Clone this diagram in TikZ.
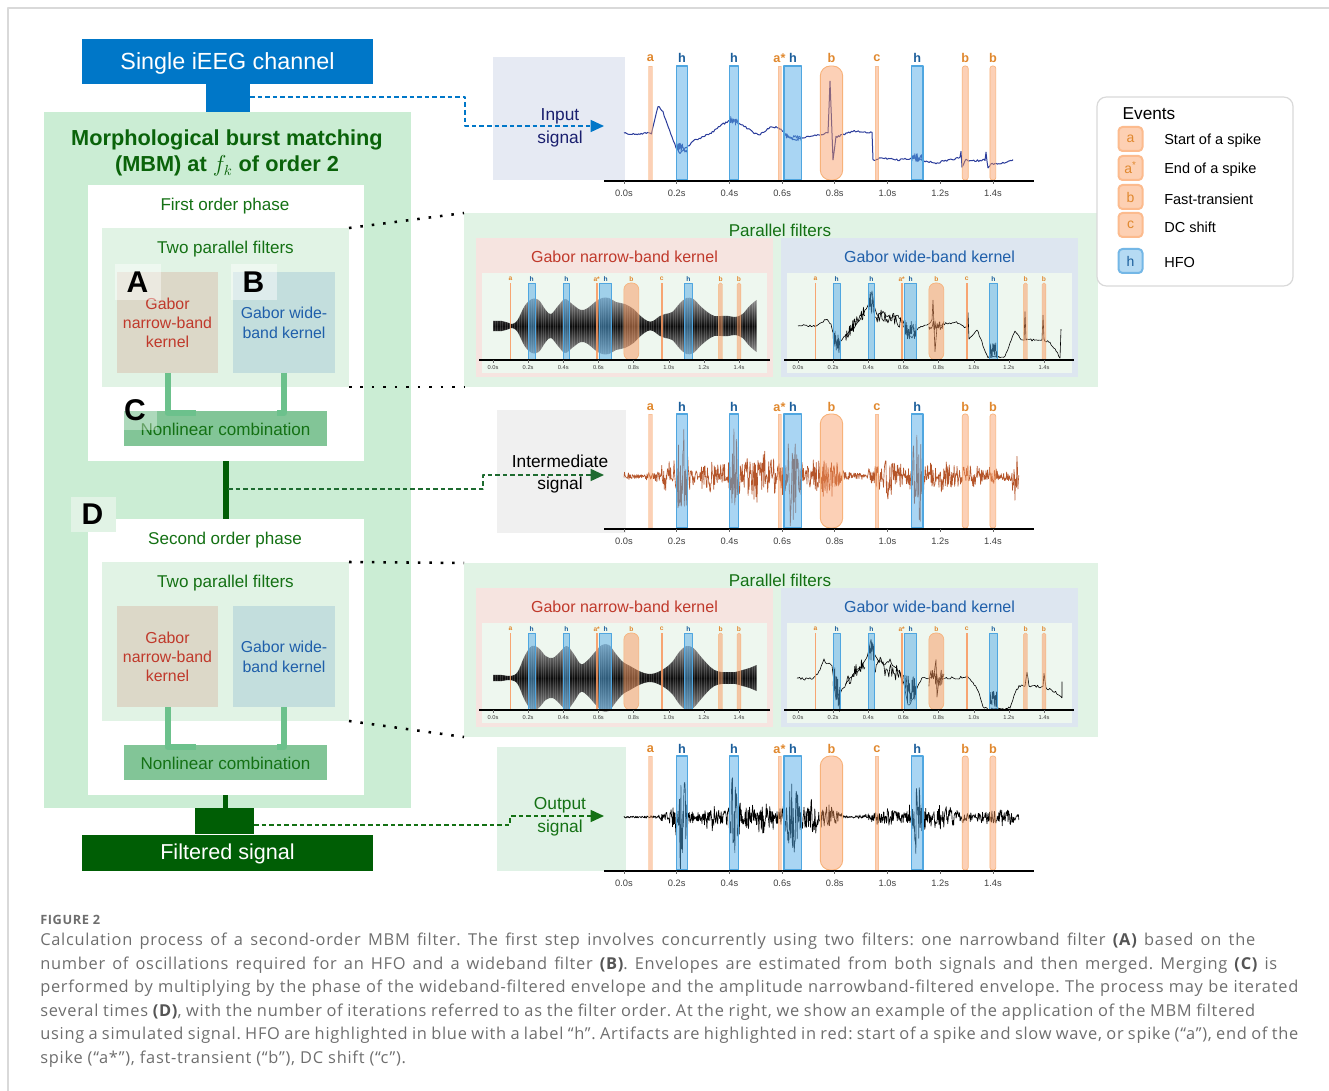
\documentclass[tikz,border=0pt]{standalone}
\usepackage{fontspec}
\setmainfont{Liberation Sans}
\newfontfamily\capfont{Open Sans}[LetterSpace=4.5]
\usetikzlibrary{arrows.meta,calc,fit}

\newcommand\fsz[2]{\fontsize{#1}{#2}\selectfont}

% palette
\definecolor{chanblue}{HTML}{0077C8}
\definecolor{outgreen}{HTML}{005E05}
\definecolor{mbmfill}{HTML}{CBEDD4}
\definecolor{pffill}{HTML}{E1F3E5}
\definecolor{nbfill}{HTML}{DCD8C8}
\definecolor{wbfill}{HTML}{C3DEDD}
\definecolor{nlfill}{HTML}{82C597}
\definecolor{linkgreen}{HTML}{6CC18C}
\definecolor{titlegreen}{HTML}{0A630A}
\definecolor{phasegreen}{HTML}{147114}
\definecolor{nbred}{HTML}{C0392B}
\definecolor{wbblue}{HTML}{1F5FAA}
\definecolor{pinkfill}{HTML}{F6E4E0}
\definecolor{bluefill}{HTML}{DDE6F0}
\definecolor{plotfill}{HTML}{EEF7EF}
\definecolor{inboxfill}{HTML}{E6EAF3}
\definecolor{midboxfill}{HTML}{F0F0F0}
\definecolor{outboxfill}{HTML}{E0F2E6}
\definecolor{hfofill}{HTML}{53ABE7}
\definecolor{hfoline}{HTML}{4FA6E0}
\definecolor{artfill}{HTML}{F9975D}
\definecolor{artline}{HTML}{F7B27A}
\definecolor{artlab}{HTML}{E0882E}
\definecolor{hfolab}{HTML}{1B5E9B}
\definecolor{intrace}{HTML}{2B3C9B}
\definecolor{midtrace}{HTML}{B5552A}
\definecolor{captxt}{HTML}{6E6E6E}
\definecolor{capbold}{HTML}{555555}
\definecolor{framegray}{HTML}{D9D9D9}
\definecolor{ticktxt}{HTML}{404040}
\definecolor{inlabel}{HTML}{1A1F6E}
\definecolor{middash}{HTML}{1E6B30}
\definecolor{badgefill}{HTML}{FDD0B3}
\definecolor{badgeline}{HTML}{FCBB8E}
\definecolor{hbadgefill}{HTML}{B5DAF3}
\definecolor{hbadgeline}{HTML}{74B7E6}

% half widths (px) of the event marks
\def\padbign{1.7}\def\padbigh{0}\def\padbigB{0}\def\padbigr{0.3}
\def\padminin{0.9}\def\padminih{0}\def\padminiB{0}\def\padminir{0.2}

% event marks: #1 tag, #2 x at t=0, #3 px per s, #4 top, #5 bottom, #6 label y, #7 size prefix
\newcommand\evbands[7]{%
  \foreach \kind/\ta/\tb/\lab [count=\i] in {n/0.100/0.100/a, h/0.200/0.240/h, h/0.400/0.435/h, n/0.590/0.590/a*, h/0.607/0.675/h, B/0.745/0.830/b, n/0.960/0.960/c, h/1.090/1.135/h, r/1.285/1.305/b, r/1.390/1.410/b}{%
    \pgfmathsetmacro\pad{\csname pad#7\kind\endcsname}%
    \pgfmathsetmacro\xa{#2+#3*\ta-\pad}%
    \pgfmathsetmacro\xb{#2+#3*\tb+\pad}%
    \pgfmathsetmacro\xm{#2+#3*(\ta+\tb)/2}%
    \edef\doband{\noexpand\path[#7-\kind] (\xa,#4) rectangle (\xb,#5);}\doband
    \edef\dolab{\noexpand\node[#7-lab-\kind] (#1-ev\i) at (\xm,#6) {\lab};}\dolab
  }%
}

% time axis: #1 tag, #2 x at t=0, #3 px per s, #4 axis y, #5 start x, #6 end x, #7 label y, #8 prefix
\newcommand\timeaxis[8]{%
  \draw[#8-axis] (#5,#4) -- (#6,#4);
  \foreach \tl [count=\i] in {0.0,0.2,0.4,0.6,0.8,1.0,1.2,1.4}{%
    \pgfmathsetmacro\xt{#2+#3*\tl}%
    \draw[#8-tick] (\xt,#4) -- ++(0,3);
    \node[#8-ticklab] (#1-tk\i) at (\xt,#7) {\tl s};
  }%
}

% narrow-band envelope: #1 x at t=0, #2 centre y, #3 px per s, #4 list t/half-height
\newcommand\nbenv[4]{%
  \gdef\envtop{}\gdef\envbot{}%
  \foreach \tq/\hq in {#4}{%
    \pgfmathsetmacro\xx{#1+#3*\tq}%
    \pgfmathsetmacro\yt{#2-\hq}%
    \pgfmathsetmacro\yb{#2+\hq}%
    \xdef\envtop{\envtop(\xx,\yt) }%
    \xdef\envbot{(\xx,\yb) \envbot}%
  }%
  \edef\envpath{\noexpand\path[nbenv] plot[smooth, tension=0.6] coordinates {\envtop} -- plot[smooth, tension=0.6] coordinates {\envbot} -- cycle;}%
  \envpath
  % fine oscillation striations inside the envelope
  \begin{scope}
    \edef\envclip{\noexpand\clip plot[smooth, tension=0.6] coordinates {\envtop} -- plot[smooth, tension=0.6] coordinates {\envbot} -- cycle;}%
    \envclip
    \foreach \sx in {0,2.4,...,290}{\draw[white, opacity=0.16, line width=0.5pt] (#1-12+\sx,#2-40) -- ++(0,80);}
  \end{scope}
}

% jittered polyline through x/y knots: #1 style, #2 jitter (px), #3 list
\newcommand\jitter[3]{%
  \gdef\jpath{}\gdef\jfirst{1}%
  \foreach \jx/\jy in {#3}{%
    \ifnum\jfirst=1
      \xdef\jpath{(\jx,\jy)}\gdef\jfirst{0}%
    \else
      \pgfmathtruncatemacro\jn{max(1,round((\jx-\jpx)/1.3))}%
      \foreach \k in {1,...,\jn}{%
        \pgfmathsetmacro\kx{\jpx+(\jx-\jpx)*\k/\jn}%
        \pgfmathsetmacro\ky{\jpy+(\jy-\jpy)*\k/\jn+#2*rand}%
        \xdef\jpath{\jpath -- (\kx,\ky)}%
      }%
    \fi
    \xdef\jpx{\jx}\xdef\jpy{\jy}%
  }%
  \edef\jdo{\noexpand\draw[#1] \jpath;}\jdo
}

% noisy stretches: #1 style, #2 x at t=0, #3 px per s, #4 list ta/tb/ya/yb/amp
\newcommand\noisy[4]{%
  \foreach \na/\nb/\nya/\nyb/\nam in {#4}{%
    \draw[#1] plot[domain=\na:\nb, samples=30, variable=\tv] ({#2+#3*\tv},{\nya+(\nyb-\nya)*(\tv-\na)/(\nb-\na)+\nam*rand});
  }%
}

% one filter phase: #1 tag, #2 y offset, #3 title
\newcommand\phasebox[3]{%
  \node[fit={(88,185+#2) (364,461+#2)}, box, fill=white] (#1) {};
  \node[phase text] (#1-title) at (225,206+#2) {#3};
  \node[fit={(102,228+#2) (349,387+#2)}, box, fill=pffill] (#1-pf) {};
  \node[phase text] (#1-pft) at (225.5,249+#2) {Two parallel filters};
  \node[fit={(117,272+#2) (218,373+#2)}, box, fill=nbfill] (#1-nb) {};
  \node[fit={(233,272+#2) (335,373+#2)}, box, fill=wbfill] (#1-wb) {};
  \node[fit={(124,411+#2) (327,446+#2)}, box, fill=nlfill] (#1-nl) {};
  \draw[link] (#1-nb.south) |- ([xshift=-22.5pt,yshift=-1.5pt]#1-nl.north);
  \draw[link] (#1-wb.south) |- ([xshift=38.6pt,yshift=-1.5pt]#1-nl.north);
  \node[nb text] (#1-nbt) at (167.5,323+#2) {Gabor\\narrow-band\\kernel};
  \node[wb text] (#1-wbt) at (284,323+#2) {Gabor wide-\\band kernel};
  \node[phase text] (#1-nlt) at ([yshift=-1pt]#1-nl.center) {Nonlinear combination};
}

% parallel-filter panel background: #1 tag, #2 y offset
\newcommand\parpanel[2]{%
  \node[fit={(464,213+#2) (1098,387+#2)}, box, fill=pffill] (#1) {};
  \node[phase text] (#1-title) at (780,230+#2) {Parallel filters};
  \node[fit={(476,238+#2) (773,377+#2)}, box, fill=pinkfill] (#1-nb) {};
  \node[fit={(781,238+#2) (1078,377+#2)}, box, fill=bluefill] (#1-wb) {};
  \node[font=\fsz{12}{14}, text=nbred, inner sep=0pt] (#1-nbt) at (624.5,257+#2) {Gabor narrow-band kernel};
  \node[font=\fsz{12}{14}, text=wbblue, inner sep=0pt] (#1-wbt) at (929.5,257+#2) {Gabor wide-band kernel};
  \node[fit={(482,273+#2) (767,373+#2)}, box, fill=plotfill] (#1-nbp) {};
  \node[fit={(787,273+#2) (1072,373+#2)}, box, fill=plotfill] (#1-wbp) {};
}
\newcommand\parmarks[2]{%
  \evbands{#1-nbe}{493}{175.7}{283+#2}{360+#2}{279+#2}{mini}
  \evbands{#1-wbe}{798}{175.7}{283+#2}{360+#2}{279+#2}{mini}
  \timeaxis{#1-nbx}{493}{175.7}{360+#2}{479}{770}{368+#2}{mini}
  \timeaxis{#1-wbx}{798}{175.7}{360+#2}{784}{1074}{368+#2}{mini}
}

\begin{document}
\begin{tikzpicture}[x=0.75pt, y=-0.75pt, line join=round,
  declare function={
    gs(\gu,\gc,\gw)=exp(-min(((\gu-\gc)/\gw)*((\gu-\gc)/\gw),9));
    envmid(\gu)=4+14*gs(\gu,0.18,0.05)+16*gs(\gu,0.32,0.06)+26*gs(\gu,0.52,0.1)+20*gs(\gu,0.74,0.05)+12*gs(\gu,0.8,0.03)+20*gs(\gu,1.0,0.06)+14*gs(\gu,1.22,0.1)+8*gs(\gu,1.38,0.06)+24*gs(\gu,1.49,0.025)+55*gs(\gu,0.222,0.018)+50*gs(\gu,0.418,0.016)+48*gs(\gu,0.64,0.028)+56*gs(\gu,1.112,0.02);
    envout(\gu)=1.5+12*gs(\gu,0.19,0.04)+13*gs(\gu,0.33,0.07)+18*gs(\gu,0.52,0.08)+18*gs(\gu,0.72,0.05)+12*gs(\gu,0.79,0.03)+10*gs(\gu,1.0,0.07)+12*gs(\gu,1.2,0.08)+9*gs(\gu,1.42,0.1)+58*gs(\gu,0.222,0.018)+52*gs(\gu,0.418,0.016)+46*gs(\gu,0.64,0.028)+57*gs(\gu,1.112,0.02);
  },
  box/.style={inner sep=0pt, outer sep=0pt},
  link/.style={draw=linkgreen, line width=4.5pt},
  phase text/.style={font=\fsz{12.8}{15}, text=phasegreen, inner sep=0pt},
  nb text/.style={font=\fsz{11.9}{14.25}, text=nbred, align=center, inner sep=0pt},
  wb text/.style={font=\fsz{11.9}{15}, text=wbblue, align=center, inner sep=0pt},
  letter/.style={font=\bfseries\fsz{22.5}{24}, text=black, inner sep=0pt},
  dotline/.style={draw=black, line width=1.9pt, dash pattern=on 1.9pt off 6.7pt},
  sigarrow/.style={line width=1.1pt, dash pattern=on 3.4pt off 2.3pt, -{Triangle[length=10pt,width=9pt]}},
  sigtext/.style={font=\fsz{13}{17}, align=center, inner sep=0pt},
  big-n/.style={fill=artfill, fill opacity=0.45, draw=artline, draw opacity=0.5, line width=0.3pt},
  big-h/.style={fill=hfofill, fill opacity=0.5, draw=hfoline, line width=0.9pt},
  big-B/.style={fill=artfill, fill opacity=0.45, draw=artline, line width=0.7pt, rounded corners=7.5pt},
  big-r/.style={fill=artfill, fill opacity=0.45, draw=artline, line width=0.5pt, rounded corners=1.8pt},
  big-lab-n/.style={text=artlab, font=\bfseries\fsz{9.5}{11}, inner sep=0pt},
  big-lab-B/.style={big-lab-n}, big-lab-r/.style={big-lab-n},
  big-lab-h/.style={text=hfolab, font=\bfseries\fsz{9.5}{11}, inner sep=0pt},
  mini-n/.style={fill=artfill, fill opacity=0.85},
  mini-h/.style={fill=hfofill, fill opacity=0.5, draw=hfoline, line width=0.6pt},
  mini-B/.style={fill=artfill, fill opacity=0.5, draw=artline, line width=0.5pt, rounded corners=5pt},
  mini-r/.style={fill=artfill, fill opacity=0.5, draw=artline, line width=0.3pt, rounded corners=1.2pt},
  mini-lab-n/.style={text=artlab, font=\bfseries\fsz{5}{6}, inner sep=0pt},
  mini-lab-B/.style={mini-lab-n}, mini-lab-r/.style={mini-lab-n},
  mini-lab-h/.style={text=hfolab, font=\bfseries\fsz{5}{6}, inner sep=0pt},
  big-axis/.style={draw=black, line width=1pt},
  big-tick/.style={draw=black!60, line width=0.5pt},
  big-ticklab/.style={font=\fsz{7}{8}, text=ticktxt, inner sep=0pt},
  mini-axis/.style={draw=black, line width=0.9pt},
  mini-tick/.style={draw=black!60, line width=0.3pt},
  mini-ticklab/.style={font=\fsz{4.3}{5}, text=ticktxt, inner sep=0pt},
  nbenv/.style={top color=black!40, bottom color=black!40, middle color=black!95},
  wbtrace/.style={draw=black, line width=0.45pt},
  obadge/.style={box, minimum width=18pt, minimum height=18pt, rounded corners=3pt, fill=badgefill, draw=badgeline, line width=1.5pt, text=artlab, font=\fsz{10.5}{12}},
  hbadge/.style={box, minimum width=18pt, minimum height=18pt, rounded corners=3pt, fill=hbadgefill, draw=hbadgeline, line width=1.5pt, text=hfolab, font=\fsz{10.5}{12}},
  legtext/.style={font=\fsz{10.9}{13}, inner sep=0pt, anchor=west},
  captext/.style={font=\capfont\frenchspacing\fsz{12.3}{15}, text=captxt, inner sep=0pt, anchor=base west},
]
\useasboundingbox (0,0) rectangle (1329,1091);
\draw[framegray, line width=0.9pt] (8,1091) -- (8,8) -- (1329,8);

% ================= filter pipeline =================
\node[fit={(82,39) (373,84)}, box, fill=chanblue] (chan) {};
\node[text=white, font=\fsz{17.5}{21}, inner sep=0pt] (chantxt) at (227.5,63) {Single iEEG channel};
\node[fit={(44,112) (411,808)}, box, fill=mbmfill] (mbm) {};
\draw[draw=chanblue, line width=33pt] (chan.south) -- (chan.south |- mbm.north);
\coordinate (stemtap) at (250,97);
\node[font=\bfseries\fsz{16.3}{19.5}, text=titlegreen, align=center, inner sep=0pt] (mbmtitle) at (227,153) {Morphological burst matching\\(MBM) at $f_k$ of order 2};

\phasebox{ph1}{0}{First order phase}
\node[fit={(115,264) (161,300)}, box, fill=white, fill opacity=0.45] (tagA) {};
\node[letter] (tagAl) at (137.5,282) {A};
\node[fit={(231,264) (277,300)}, box, fill=white, fill opacity=0.45] (tagB) {};
\node[letter] (tagBl) at (253.5,282) {B};
\node[fit={(124,398) (157,430)}, box, fill=white, fill opacity=0.35] (tagC) {};
\node[letter] (tagCl) at (135,410) {C};

\phasebox{ph2}{334}{Second order phase}
\node[fit={(71,497) (116,532)}, box, fill=pffill] (tagD) {};
\node[letter] (tagDl) at (92.5,514) {D};

\draw[draw=outgreen, line width=4.5pt] (ph1.south -| ph1-nl.south) -- (ph2.north -| ph1-nl.south);
\coordinate (midtap) at (228,489);
\draw[draw=outgreen, line width=3.6pt] (ph2.south -| ph2-nl.south) -- (mbm.south -| ph2-nl.south);
\draw[draw=outgreen, line width=44.25pt] ([xshift=-2.25pt]mbm.south) -- ([xshift=-2.25pt,yshift=1pt]mbm.south |- 0,835);
\node[fit={(82,835) (373,871)}, box, fill=outgreen] (fsig) {};
\node[text=white, font=\fsz{16.2}{19}, inner sep=0pt] (fsigtxt) at (227.5,854) {Filtered signal};
\coordinate (outtap) at (254,825);

% ================= input signal =================
\node[fit={(493,57) (625,180)}, box, fill=inboxfill] (inbox) {};
\node[sigtext, text=inlabel] (intxt) at (560,128) {Input\\signal};
\coordinate (intip) at (604,126);
\draw[sigarrow, draw=chanblue] (stemtap) -- (465,97) -- (465,126) -- (intip);
\pgfmathsetseed{41}
\jitter{draw=intrace, line width=0.75pt}{1.0}{624/133, 636/134, 651.5/133, 655/118, 658/106, 663/112, 667/123, 672/137, 676/147, 680/153, 683/150, 689/145, 695/140, 702/137, 710/134, 716/129, 721/125, 727/122, 732/120, 740/124, 747/128, 753/132, 759/135, 765/131, 770/128, 776/127, 781/130, 785/134, 790/138, 795/140, 804/137, 812/136, 819/135, 828/133, 830/82, 833/160, 836/137, 842/135, 850/132, 857/131, 865/132, 872/133, 873/160, 883/158, 890/159, 898/160, 905/159, 913/158, 925/161, 936/163, 948/160, 960/158, 961/152, 962/167, 966/160, 975/161, 985/160, 986/153, 988/168, 991/164, 1000/164, 1007/162, 1013/160}
\noisy{draw=intrace, line width=0.5pt}{624}{263.5}{0.20/0.24/145/152/5, 0.40/0.435/120/122/4, 0.607/0.675/136/139/3, 1.09/1.135/158/158/5}
\evbands{inev}{624}{263.5}{66}{180}{58}{big}
\timeaxis{inax}{624}{263.5}{181}{604}{1034}{193}{big}

% ================= first parallel filters =================
\parpanel{pp1}{0}
\nbenv{493}{326}{175.7}{0/5, 0.05/5, 0.09/3, 0.11/2, 0.14/6, 0.18/20, 0.22/27, 0.26/26, 0.30/16, 0.33/12, 0.37/20, 0.41/27, 0.45/22, 0.50/16, 0.54/18, 0.58/24, 0.62/28, 0.66/28, 0.70/24, 0.75/22, 0.80/17, 0.84/10, 0.88/5, 0.91/5, 0.95/10, 0.98/12, 1.02/14, 1.06/22, 1.10/28, 1.14/27, 1.18/20, 1.22/14, 1.26/10, 1.30/10, 1.34/10, 1.38/9, 1.42/12, 1.46/20, 1.50/26}
\pgfmathsetseed{7}
\jitter{wbtrace}{1.3}{798/326, 805/325, 815/326, 822/322, 827/319, 831/325, 834/335, 837/346, 840/341, 845/336, 852/330, 858/322, 865/311, 869/303, 872/292, 874/305, 877/315, 883/312, 890/318, 898/316, 903/322, 908/333, 912/338, 916/330, 922/327, 928/325, 932/320, 933/300, 935/352, 937/328, 942/325, 948/323, 955/322, 962/326, 967/328, 968/312, 969/340, 977/330, 983/345, 988/357, 995/356, 1000/357, 1005/357, 1010/343, 1015/330, 1020/338, 1024/340, 1025/313, 1026/340, 1032/340, 1040/339, 1042/340, 1043/315, 1044/340, 1050/342, 1055/350, 1060/357, 1061/330}
\noisy{wbtrace}{798}{175.7}{0.20/0.24/338/345/9, 0.27/0.38/336/311/6, 0.40/0.435/300/306/10, 0.44/0.60/315/322/7, 0.607/0.675/330/330/10, 0.745/0.83/326/326/6, 1.09/1.135/350/350/8}
\parmarks{pp1}{0}

% ================= intermediate signal =================
\node[fit={(497,410) (626,533)}, box, fill=midboxfill] (midbox) {};
\node[sigtext, text=black] (midtxt) at (560,474) {Intermediate\\signal};
\coordinate (midtip) at (604,475);
\draw[sigarrow, draw=middash] (midtap) -- (483,489) -- (483,475) -- (midtip);
\pgfmathsetseed{1234}
\draw[draw=midtrace, line width=0.5pt] plot[domain=0:1.5, samples=801, variable=\tv] ({624+263.5*\tv},{476+envmid(\tv)*rand*(0.45+0.55*rnd)});
\evbands{midev}{624}{263.5}{414}{528}{407}{big}
\timeaxis{midax}{624}{263.5}{529}{604}{1034}{541}{big}

% ================= second parallel filters =================
\parpanel{pp2}{350}
\nbenv{493}{678}{175.7}{0/3, 0.05/3, 0.1/2, 0.14/6, 0.18/22, 0.22/32, 0.26/30, 0.30/22, 0.34/20, 0.38/26, 0.42/32, 0.46/24, 0.50/14, 0.54/18, 0.58/26, 0.62/33, 0.66/33, 0.70/24, 0.74/16, 0.78/12, 0.82/8, 0.86/5, 0.90/4, 0.94/6, 0.98/10, 1.02/16, 1.06/26, 1.10/32, 1.14/30, 1.18/22, 1.22/14, 1.26/8, 1.30/6, 1.34/6, 1.38/6, 1.42/8, 1.46/10, 1.50/13}
\pgfmathsetseed{99}
\jitter{wbtrace}{1.3}{797/678, 806/679, 814/678, 820/670, 824/660, 828/664, 832/665, 836/700, 839/695, 842/690, 849/680, 855/672, 861/667, 866/660, 870/645, 871/640, 873/650, 878/660, 885/665, 890/660, 894/667, 900/672, 904/685, 908/705, 913/700, 918/685, 923/677, 930/678, 934/676, 936/660, 937/697, 939/680, 945/678, 957/678, 962/677, 967/676, 970/680, 973/683, 978/690, 983/707, 988/709, 994/709, 999/709, 1005/709, 1010/708, 1014/695, 1019/686, 1025/686, 1027/673, 1029/686, 1035/686, 1040/687, 1043/687, 1044/673, 1046/688, 1052/690, 1058/694, 1062/697, 1062/682}
\noisy{wbtrace}{798}{175.7}{0.20/0.24/675/700/14, 0.27/0.38/682/662/7, 0.40/0.435/648/655/12, 0.44/0.60/664/676/9, 0.607/0.675/690/690/15, 0.745/0.83/678/678/9, 1.09/1.135/700/700/9}
\parmarks{pp2}{350}

% ================= output signal =================
\node[fit={(497,747) (626,871)}, box, fill=outboxfill] (outbox) {};
\node[sigtext, text=phasegreen] (outtxt) at (560,817) {Output\\signal};
\coordinate (outtip) at (604,816);
\draw[sigarrow, draw=phasegreen] (outtap) -- (510,825) -- (510,816) -- (outtip);
\pgfmathsetseed{777}
\draw[draw=black, line width=0.5pt] plot[domain=0:1.5, samples=801, variable=\tv] ({624+263.5*\tv},{817+envout(\tv)*rand*(0.45+0.55*rnd)});
\evbands{outev}{624}{263.5}{756}{870}{749}{big}
\timeaxis{outax}{624}{263.5}{871}{604}{1034}{883}{big}

% ================= zoom guides =================
\draw[dotline] (ph1-pf.north east) -- (pp1.north west);
\draw[dotline] (ph1-pf.south east) -- (pp1.south west);
\draw[dotline] (ph2-pf.north east) -- (pp2.north west);
\draw[dotline] (ph2-pf.south east) -- (pp2.south west);

% ================= legend =================
\node[fit={(1097,97) (1293,286)}, box, draw=framegray, line width=0.9pt, rounded corners=7pt, fill=white] (legend) {};
\node[font=\fsz{12.9}{15}, inner sep=0pt] (legtitle) at (1149,114) {Events};
\foreach \sym/\txt/\yy [count=\i] in {a/Start of a spike/139, a\textsuperscript{*}/End of a spike/168, b/Fast-transient/197, c/DC shift/225}{
  \node[obadge] (badge\i) at (1130.5,\yy) {\sym};
  \node[legtext] (legtxt\i) at (1164,\yy+2) {\txt};
}
\node[hbadge] (badge5) at (1130.5,261) {h};
\node[legtext] (legtxt5) at (1164,262) {HFO};

% ================= caption =================
\node[font=\capfont\bfseries\fsz{9.6}{11}, text=captxt, inner sep=0pt, anchor=base west] (capfig) at (40,924.5) {FIGURE 2};
\node[captext] (cap1) at (40,945.5) {\makebox[911.25pt][s]{Calculation process of a second-order MBM filter. The first step involves concurrently using two filters: one narrowband filter \textcolor{capbold}{\bfseries(A)} based on the}};
\node[captext] (cap2) at (40,969) {\makebox[927.75pt][s]{number of oscillations required for an HFO and a wideband filter \textcolor{capbold}{\bfseries(B)}. Envelopes are estimated from both signals and then merged. Merging \textcolor{capbold}{\bfseries(C)} is}};
\node[captext] (cap3) at (40,992.5) {\makebox[943.5pt][s]{performed by multiplying by the phase of the wideband-filtered envelope and the amplitude narrowband-filtered envelope. The process may be iterated}};
\node[captext] (cap4) at (40,1016) {\makebox[911.25pt][s]{several times \textcolor{capbold}{\bfseries(D)}, with the number of iterations referred to as the filter order. At the right, we show an example of the application of the MBM filtered}};
\node[captext] (cap5) at (40,1039.5) {\makebox[943.5pt][s]{using a simulated signal. HFO are highlighted in blue with a label “h”. Artifacts are highlighted in red: start of a spike and slow wave, or spike (“a”), end of the}};
\node[captext] (cap6) at (40,1063) {spike (“a*”), fast-transient (“b”), DC shift (“c”).};
\end{tikzpicture}
\end{document}
